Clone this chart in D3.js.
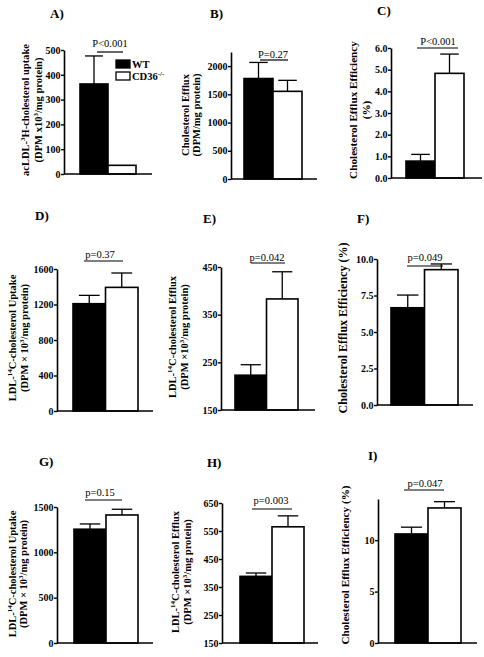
<!DOCTYPE html>
<html><head><meta charset="utf-8">
<script src="https://cdn.jsdelivr.net/npm/d3@7"></script>
<style>body{margin:0;background:#fff}svg{display:block}</style>
</head><body>
<script>
// ---------- data ----------
const panelLabels = ["A)", "B)", "C)", "D)", "E)", "F)", "G)", "H)", "I)"];
const groups = ["WT", "CD36-/-"];
const wtMean = [363, 1780, 0.78, 1209, 223, 6.66, 1255, 388, 10.6];
const wtErr  = [113, 285, 0.31, 94, 22, 0.87, 58, 12, 0.66];
const koMean = [35, 1553, 4.83, 1393, 383, 9.27, 1412, 565, 13.13];
const koErr  = [0, 195, 0.89, 162, 57, 0.39, 63, 39, 0.61];
const pTexts = ["P<0.001", "P=0.27", "P<0.001", "p=0.37", "p=0.042", "p=0.049", "p=0.15", "p=0.003", "p=0.047"];
const yDomains = [[0, 500], [0, 2250], [0, 6], [0, 1600], [150, 450], [0, 10], [0, 1500], [150, 650], [0, 14]];
const yTicks = [
  [0, 100, 200, 300, 400, 500],
  [0, 500, 1000, 1500, 2000],
  [0, 1, 2, 3, 4, 5, 6],
  [0, 400, 800, 1200, 1600],
  [150, 250, 350, 450],
  [0, 2.5, 5, 7.5, 10],
  [0, 500, 1000, 1500],
  [150, 250, 350, 450, 550, 650],
  [0, 5, 10]
];
const tickFormats = ["d", "d", ".1f", "d", "d", ".1f", "d", "d", "d"];
const yLabels = [
  ["acLDL-^{3}H-cholesterol uptake", "(DPM x10^{3}/mg protein)"],
  ["Cholesterol Efflux", "(DPM/mg protein)"],
  ["Cholesterol Efflux Efficiency", "(%)"],
  ["LDL-^{14}C-cholesterol Uptake", "(DPM × 10^{3}/mg protein)"],
  ["LDL-^{14}C-cholesterol Efflux", "(DPM ×10^{3}/mg protein)"],
  ["Cholesterol Efflux Efficiency (%)"],
  ["LDL-^{14}C-cholesterol Uptake", "(DPM × 10^{3}/mg protein)"],
  ["LDL-^{14}C-cholesterol Efflux", "(DPM ×10^{3}/mg protein)"],
  ["Cholesterol Efflux Efficiency (%)"]
];

// ---------- layout ----------
const layout = [
  {ax:64,  xe:152, yt:50,  yb:174, b0:80,  b1:136, t:[50,18],  lx:[25,38],   ly:110, lf:10.5, p:[110,47],  br:[97,123,52]},
  {ax:231, xe:317, yt:52,  yb:179, b0:244, b1:302, t:[210,18], lx:[185,196], ly:115, lf:10.5, p:[273,58],  br:[260,288,60]},
  {ax:391, xe:482, yt:48,  yb:178, b0:406, b1:464, t:[377,15], lx:[353,366], ly:110, lf:11.2, p:[438,45],  br:[417,458,48]},
  {ax:57,  xe:153, yt:269, yb:411, b0:73,  b1:138, t:[35,220], lx:[12,24],   ly:338, lf:10.5, p:[100,258], br:[84,123,261]},
  {ax:221, xe:315, yt:267, yb:410, b0:235, b1:298, t:[203,223],lx:[172,184], ly:337, lf:10.5, p:[267,261], br:[251,285,263]},
  {ax:377, xe:473, yt:259, yb:405, b0:391, b1:458, t:[357,223],lx:[343],     ly:328, lf:12,   p:[425,261], br:[407,443,266]},
  {ax:57,  xe:153, yt:507, yb:643, b0:74,  b1:138, t:[39,466], lx:[12,23],   ly:574, lf:10.5, p:[100,496], br:[85,122,500]},
  {ax:222, xe:318, yt:503, yb:643, b0:240, b1:304, t:[207,467],lx:[175,187], ly:572, lf:10.5, p:[271,504], br:[252,292,509]},
  {ax:378, xe:477, yt:499, yb:643, b0:395, b1:461, t:[368,460],lx:[345],     ly:565, lf:11.2, p:[425,487], br:[404,444,490]}
];

const W = 484, H = 657;
const FONT = "'Liberation Serif','Times New Roman',serif";
const svg = d3.select("body").append("svg").attr("width", W).attr("height", H)
  .style("font-family", FONT);

function addRich(textSel, str, supSize) {
  const parts = str.split(/(\^\{[^}]*\})/).filter(s => s.length);
  parts.forEach(s => {
    const m = s.match(/^\^\{([^}]*)\}$/);
    if (m) {
      textSel.append("tspan").attr("baseline-shift", "super").attr("font-size", supSize).text(m[1]);
    } else {
      textSel.append("tspan").text(s);
    }
  });
}

layout.forEach((L, i) => {
  const g = svg.append("g");
  const y = d3.scaleLinear().domain(yDomains[i]).range([L.yb, L.yt]);
  const x = d3.scaleBand().domain(groups).range([L.b0, L.b1]).padding(0);
  const means = [wtMean[i], koMean[i]];
  const errs = [wtErr[i], koErr[i]];
  const base = yDomains[i][0];

  // bars
  groups.forEach((grp, k) => {
    g.append("rect")
      .attr("x", x(grp)).attr("width", x.bandwidth())
      .attr("y", y(means[k])).attr("height", y(base) - y(means[k]))
      .attr("fill", k === 0 ? "#000" : "#fff")
      .attr("stroke", "#000").attr("stroke-width", 1.6);
    if (errs[k] > 0) {
      const cx = x(grp) + x.bandwidth() / 2;
      const cw = x.bandwidth() * 0.32;
      g.append("line").attr("x1", cx).attr("x2", cx)
        .attr("y1", y(means[k])).attr("y2", y(means[k] + errs[k]))
        .attr("stroke", "#000").attr("stroke-width", 1.3);
      g.append("line").attr("x1", cx - cw).attr("x2", cx + cw)
        .attr("y1", y(means[k] + errs[k])).attr("y2", y(means[k] + errs[k]))
        .attr("stroke", "#000").attr("stroke-width", 1.3);
    }
  });

  // y axis
  const axis = d3.axisLeft(y).tickValues(yTicks[i]).tickSize(3).tickSizeOuter(0)
    .tickFormat(d3.format(tickFormats[i]));
  const ag = g.append("g").attr("transform", `translate(${L.ax},0)`).call(axis);
  ag.select(".domain").attr("stroke-width", 1.6);
  ag.selectAll(".tick line").attr("stroke-width", 1.4);
  ag.selectAll(".tick text").attr("font-family", FONT).attr("font-weight", "bold")
    .attr("font-size", 10).attr("x", -3.5).attr("fill", "#000");

  // x axis
  g.append("line").attr("x1", L.ax).attr("x2", L.xe).attr("y1", y(base)).attr("y2", y(base))
    .attr("stroke", "#000").attr("stroke-width", 1.6);

  // title
  g.append("text").attr("x", L.t[0]).attr("y", L.t[1]).attr("font-size", 13)
    .attr("font-weight", "bold").text(panelLabels[i]);

  // y label
  yLabels[i].forEach((lab, j) => {
    const t = g.append("text")
      .attr("transform", `translate(${L.lx[j]},${L.ly}) rotate(-90)`)
      .attr("text-anchor", "middle").attr("dy", "0.35em")
      .attr("font-size", L.lf).attr("font-weight", "bold");
    addRich(t, lab, 7);
  });

  // p value + bracket
  g.append("text").attr("x", L.p[0]).attr("y", L.p[1]).attr("text-anchor", "middle")
    .attr("font-size", 10.5).text(pTexts[i]);
  g.append("line").attr("x1", L.br[0]).attr("x2", L.br[1]).attr("y1", L.br[2]).attr("y2", L.br[2])
    .attr("stroke", "#000").attr("stroke-width", 1.2);

  // legend (panel A only)
  if (i === 0) {
    const legY = [60, 72];
    groups.forEach((grp, k) => {
      g.append("rect").attr("x", 116).attr("y", legY[k]).attr("width", 14).attr("height", 8)
        .attr("fill", k === 0 ? "#000" : "#fff").attr("stroke", "#000").attr("stroke-width", 1.3);
      const t = g.append("text").attr("x", 132).attr("y", legY[k] + 8)
        .attr("font-size", 10.5).attr("font-weight", "bold");
      if (k === 0) t.text(grp);
      else addRich(t, "CD36^{-/-}", 7);
    });
  }
});
</script>
</body></html>
